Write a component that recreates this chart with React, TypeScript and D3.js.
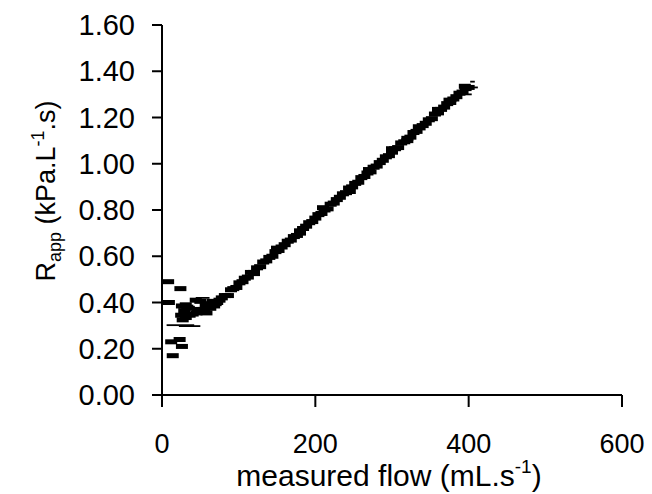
import React from "react";
import * as d3 from "d3";

const W = 652;
const H = 494;

// Axis ticks
const xTicks = [0, 200, 400, 600];
const yTicks = [0, 0.2, 0.4, 0.6, 0.8, 1.0, 1.2, 1.4, 1.6];

// Main band of measurements (flow mL/s, Rapp kPa.L-1.s)
const bandFlow = [78, 82, 86, 90, 93, 97, 101, 105, 108, 112, 116, 120, 124, 128, 132, 136, 140, 144, 148, 152, 156, 160, 164, 168, 172, 176, 180, 184, 188, 192, 196, 200, 204, 208, 212, 216, 220, 224, 228, 232, 236, 240, 244, 248, 252, 256, 260, 264, 268, 272, 276, 280, 284, 288, 292, 296, 300, 304, 308, 312, 316, 320, 324, 328, 332, 336, 340, 344, 348, 352, 356, 360, 364, 368, 372, 376, 380, 384, 388, 392, 396, 400, 150, 210, 245, 300, 335, 360, 395, 120, 180, 270, 320, 375];
const bandR = [0.42, 0.43, 0.43, 0.455, 0.46, 0.465, 0.485, 0.49, 0.505, 0.51, 0.53, 0.53, 0.55, 0.555, 0.575, 0.58, 0.595, 0.6, 0.62, 0.625, 0.64, 0.65, 0.665, 0.67, 0.685, 0.69, 0.71, 0.72, 0.73, 0.745, 0.75, 0.765, 0.78, 0.785, 0.8, 0.805, 0.825, 0.83, 0.845, 0.855, 0.87, 0.875, 0.895, 0.9, 0.915, 0.92, 0.94, 0.945, 0.96, 0.965, 0.985, 0.99, 1.005, 1.015, 1.03, 1.035, 1.05, 1.065, 1.07, 1.09, 1.095, 1.11, 1.115, 1.135, 1.14, 1.155, 1.165, 1.175, 1.19, 1.195, 1.215, 1.22, 1.235, 1.245, 1.26, 1.265, 1.28, 1.29, 1.305, 1.31, 1.325, 1.33, 0.635, 0.81, 0.88, 1.065, 1.16, 1.235, 1.335, 0.525, 0.7, 0.975, 1.1, 1.275];

// Scattered low-flow measurements
const lowFlow = [8, 24, 9, 26, 31, 35, 29, 44, 50, 47, 53, 58, 63, 68, 57, 40, 25, 27, 31, 36, 72, 66, 62, 75, 12, 23, 26, 14, 33, 45, 55, 70];
const lowR = [0.49, 0.46, 0.4, 0.385, 0.39, 0.375, 0.365, 0.41, 0.405, 0.37, 0.36, 0.355, 0.375, 0.385, 0.39, 0.35, 0.345, 0.325, 0.335, 0.345, 0.4, 0.405, 0.395, 0.41, 0.23, 0.24, 0.21, 0.17, 0.38, 0.355, 0.37, 0.395];

// Thin horizontal dashes (flow from, flow to, Rapp)
const dashFrom = [6, 22, 395, 388, 402, 372, 44];
const dashTo = [42, 50, 412, 404, 408, 384, 62];
const dashR = [0.302, 0.298, 1.33, 1.3, 1.355, 1.27, 0.42];

const FONT = "'Liberation Sans', Arial, Helvetica, sans-serif";

export default function App() {
  const x = d3.scaleLinear().domain([0, 600]).range([162, 622]);
  const y = d3.scaleLinear().domain([0, 1.6]).range([395, 25]);
  const fmt = d3.format(".2f");

  const points = [
    ...bandFlow.map((f, i) => ({ f, r: bandR[i] })),
    ...lowFlow.map((f, i) => ({ f, r: lowR[i] })),
  ];

  return (
    <svg
      width={W}
      height={H}
      style={{ position: "absolute", left: 0, top: 0, background: "#fff" }}
      fontFamily={FONT}
    >
      <rect width={W} height={H} fill="#fff" />
      {/* data marks */}
      {points.map((p, i) => (
        <rect
          key={"p" + i}
          x={x(p.f) - 6}
          y={y(p.r) - 2.5}
          width={12}
          height={5}
          fill="#000"
        />
      ))}
      {dashFrom.map((f, i) => (
        <line
          key={"d" + i}
          x1={x(f)}
          x2={x(dashTo[i])}
          y1={y(dashR[i])}
          y2={y(dashR[i])}
          stroke="#000"
          strokeWidth={1.8}
        />
      ))}
      {/* axes */}
      <line x1={x(0)} x2={x(0)} y1={y(1.6)} y2={y(0)} stroke="#000" strokeWidth={2} />
      <line x1={x(0)} x2={x(600)} y1={y(0)} y2={y(0)} stroke="#000" strokeWidth={2} />
      {yTicks.map((t) => (
        <g key={"yt" + t}>
          <line x1={x(0) - 10} x2={x(0)} y1={y(t)} y2={y(t)} stroke="#000" strokeWidth={2} />
          <text
            x={135}
            y={y(t) + 10}
            textAnchor="end"
            fontSize={29}
            fill="#000"
          >
            {fmt(t)}
          </text>
        </g>
      ))}
      {xTicks.map((t) => (
        <g key={"xt" + t}>
          <line x1={x(t)} x2={x(t)} y1={y(0)} y2={y(0) + 12} stroke="#000" strokeWidth={2} />
          <text x={x(t)} y={453} textAnchor="middle" fontSize={27} fill="#000">
            {t}
          </text>
        </g>
      ))}
      {/* x title */}
      <text x={389} y={486} textAnchor="middle" fontSize={30} fill="#000">
        measured flow (mL.s
        <tspan fontSize={19} dy={-13}>-1</tspan>
        <tspan dy={13}>)</tspan>
      </text>
      {/* y title */}
      <text
        transform={`translate(55,191) rotate(-90)`}
        textAnchor="middle"
        fontSize={27}
        fill="#000"
      >
        R
        <tspan fontSize={18} dy={6}>app</tspan>
        <tspan dy={-6}> (kPa.L</tspan>
        <tspan fontSize={18} dy={-11}>-1</tspan>
        <tspan dy={11}>.s)</tspan>
      </text>
    </svg>
  );
}
